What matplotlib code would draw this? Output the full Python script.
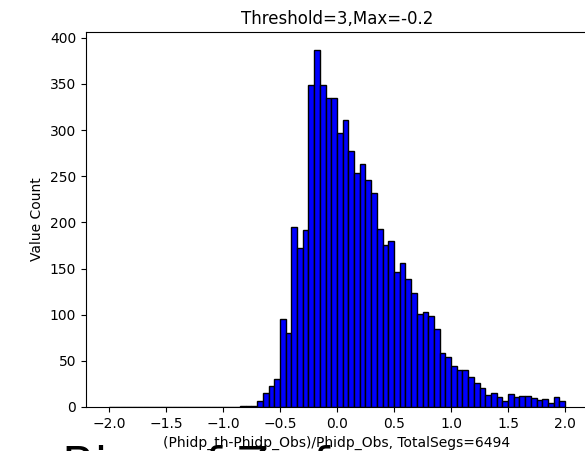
import numpy as np
import matplotlib
matplotlib.use('Agg')
import matplotlib.pyplot as plt

# histogram: 80 bins from -2 to 2
edges = np.linspace(-2.0, 2.0, 81)
counts = [0]*23 + [
    1, 1, 1,
    6, 15, 23, 30, 95, 80, 195, 172, 192,
    349, 387, 349, 335, 335, 297, 311, 277, 253, 263, 246, 232,
    193, 176, 180,
    146, 156, 139, 123, 101, 103, 99, 84, 58, 54,
    44, 40, 40, 32, 26, 21, 13, 15, 11, 6,
    14, 11, 12, 12, 10, 8, 9, 4, 11, 6,
]
centers = (edges[:-1] + edges[1:]) / 2

title = 'Threshold=3,Max=-0.2'
xlab = '(Phidp_th-Phidp_Obs)/Phidp_Obs, TotalSegs=6494'
ylab = 'Value Count'
bigtext = 'Bias of Z of errors'  # mostly cut off at the bottom edge

fig = plt.figure(figsize=(5.85, 4.51), dpi=100)
fig.text(0.106, -0.064, bigtext, fontsize=34, va='baseline', ha='left')
ax = fig.add_axes([0.147, 0.0976, 0.858, 0.8315])
ax.hist(centers, bins=edges, weights=counts, color='blue', edgecolor='black', linewidth=1)
ax.set_xticks([-2.0, -1.5, -1.0, -0.5, 0.0, 0.5, 1.0, 1.5, 2.0])
ax.set_yticks(range(0, 401, 50))
ax.set_title(title)
ax.set_xlabel(xlab)
ax.set_ylabel(ylab)
fig.savefig('out.png', dpi=100)
